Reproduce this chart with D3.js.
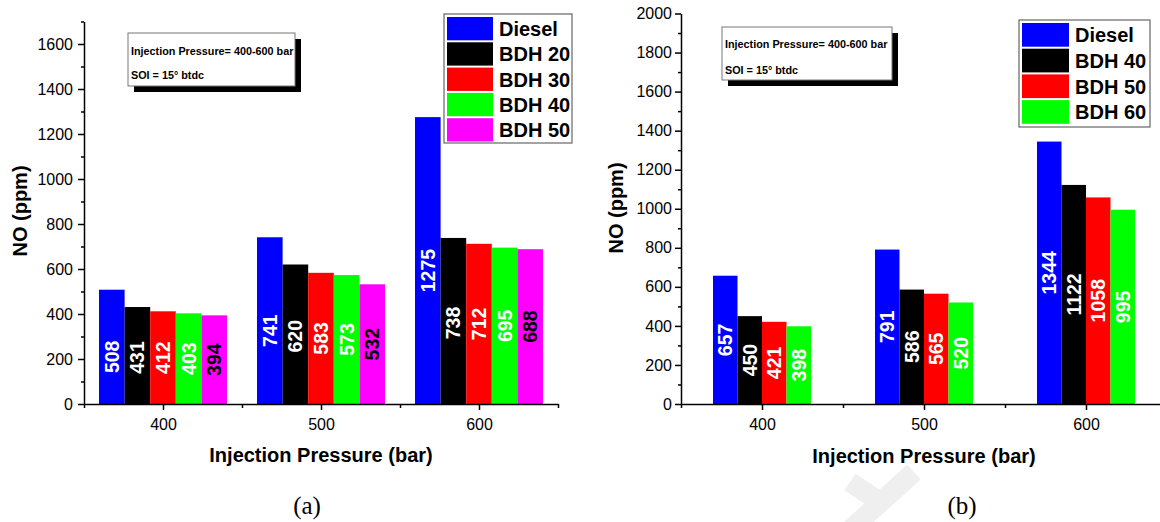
<!DOCTYPE html>
<html>
<head>
<meta charset="utf-8">
<script src="https://cdn.jsdelivr.net/npm/d3@7"></script>
<style>
  html, body { margin: 0; padding: 0; background: #fff; }
  svg { display: block; }
</style>
</head>
<body>
<svg id="chart" width="1160" height="522"></svg>
<script>
// Injection pressure groups shared by both panels
const pressures = [400, 500, 600];
const xMajorTicks = [400, 500, 600];
const xMinorTicks = [350, 450, 550, 650];

// Panel (a): NO emissions, Diesel and BDH 20..50
const seriesA = ["Diesel", "BDH 20", "BDH 30", "BDH 40", "BDH 50"];
const dieselA = [508, 741, 1275];
const bdh20A  = [431, 620, 738];
const bdh30A  = [412, 583, 712];
const bdh40A  = [403, 573, 695];
const bdh50A  = [394, 532, 688];
const yTicksA = [0, 200, 400, 600, 800, 1000, 1200, 1400, 1600];

// Panel (b): NO emissions, Diesel and BDH 40..60
const seriesB = ["Diesel", "BDH 40", "BDH 50", "BDH 60"];
const dieselB = [657, 791, 1344];
const bdh40B  = [450, 586, 1122];
const bdh50B  = [421, 565, 1058];
const bdh60B  = [398, 520, 995];
const yTicksB = [0, 200, 400, 600, 800, 1000, 1200, 1400, 1600, 1800, 2000];

const svg = d3.select("#chart");
const SANS = "'Liberation Sans', Arial, Helvetica, sans-serif";
const fmt = d3.format("d");

function drawPanel(o) {
  const g = svg.append("g");
  const x = d3.scaleLinear().domain([350, 650]).range([o.x0, o.x1]);
  const y = d3.scaleLinear().domain([0, o.yMax]).range([404, o.yTop]);
  const inner = d3.scaleBand()
    .domain(d3.range(o.series.length))
    .range([-o.groupW / 2, o.groupW / 2]);
  const bw = x(350 + inner.bandwidth()) - x(350);

  // watermark layer sits under everything else
  const under = g.append("g");

  // bars
  o.values.forEach((vals, si) => {
    g.selectAll(null).data(vals).join("rect")
      .attr("x", (d, i) => x(pressures[i] + inner(si)))
      .attr("y", d => y(d))
      .attr("width", bw)
      .attr("height", d => y(0) - y(d))
      .attr("fill", o.colors[si]);
  });

  // value labels inside bars
  o.values.forEach((vals, si) => {
    g.selectAll(null).data(vals).join("text")
      .attr("transform", (d, i) => {
        const cx = x(pressures[i] + inner(si)) + bw / 2;
        const cy = (y(d) + y(0)) / 2 + (o.labelShift[si] || 0);
        return `translate(${cx},${cy}) rotate(-90)`;
      })
      .attr("text-anchor", "middle")
      .attr("dy", "0.36em")
      .attr("font-family", SANS)
      .attr("font-weight", "bold")
      .attr("font-size", 19.5)
      .attr("fill", o.labelColors[si])
      .text(d => d);
  });

  // y axis
  const minorY = d3.range(0, o.yMax + 1, 100).filter(v => v % 200 !== 0);
  g.append("g").attr("transform", `translate(${o.x0},0)`)
    .call(d3.axisLeft(y).tickValues(o.yTicks).tickFormat(fmt)
      .tickSize(6).tickSizeOuter(0).tickPadding(o.yPad));
  g.append("g").attr("transform", `translate(${o.x0},0)`)
    .call(d3.axisLeft(y).tickValues(minorY).tickSize(3).tickFormat(""))
    .call(a => a.select(".domain").remove());

  // x axis
  g.append("g").attr("transform", "translate(0,404)")
    .call(d3.axisBottom(x).tickValues(xMajorTicks).tickFormat(fmt)
      .tickSize(6).tickSizeOuter(0).tickPadding(9));
  g.append("g").attr("transform", "translate(0,404)")
    .call(d3.axisBottom(x).tickValues(xMinorTicks).tickSize(4).tickFormat(""))
    .call(a => a.select(".domain").remove());

  g.selectAll(".domain, .tick line").attr("stroke", "#000").attr("stroke-width", 1.5);
  g.selectAll(".tick text").attr("font-family", SANS).attr("font-size", 16).attr("fill", "#000");

  // axis titles
  g.append("text")
    .attr("x", (o.x0 + x(650)) / 2 + o.xTitleShift).attr("y", o.xTitleY)
    .attr("text-anchor", "middle")
    .attr("font-family", SANS).attr("font-weight", "bold").attr("font-size", 20)
    .text("Injection Pressure (bar)");
  g.append("text")
    .attr("transform", `translate(${o.yTitleX},${o.yTitleY}) rotate(-90)`)
    .attr("text-anchor", "middle")
    .attr("font-family", SANS).attr("font-weight", "bold").attr("font-size", 20)
    .text("NO (ppm)");

  // condition note with drop shadow
  const n = o.note;
  g.append("rect").attr("x", n.x + 6).attr("y", n.y + 6).attr("width", n.w).attr("height", n.h).attr("fill", "#000");
  g.append("rect").attr("x", n.x).attr("y", n.y).attr("width", n.w).attr("height", n.h)
    .attr("fill", "#fff").attr("stroke", "#777").attr("stroke-width", 1);
  ["Injection Pressure= 400-600 bar", "SOI = 15\u00b0 btdc"].forEach((t, i) => {
    g.append("text").attr("x", n.x + 3).attr("y", n.y + n.b[i])
      .attr("font-family", SANS).attr("font-weight", "bold").attr("font-size", 10.8)
      .text(t);
  });

  // legend
  const L = o.legend;
  g.append("rect").attr("x", L.x).attr("y", L.y).attr("width", L.w).attr("height", L.h)
    .attr("fill", "#fff").attr("stroke", "#666").attr("stroke-width", 1.2);
  o.series.forEach((s, i) => {
    const ry = L.y + 3 + i * L.row;
    g.append("rect").attr("x", L.x + 3).attr("y", ry).attr("width", L.sw).attr("height", L.row - 2)
      .attr("fill", o.colors[i]);
    g.append("text").attr("x", L.x + L.sw + 9).attr("y", ry + L.row / 2 + 6.5)
      .attr("font-family", SANS).attr("font-weight", "bold").attr("font-size", 20)
      .text(s);
  });

  // panel caption
  g.append("text").attr("x", o.capX).attr("y", 514)
    .attr("text-anchor", "middle")
    .attr("font-family", "'Liberation Serif', 'Times New Roman', serif").attr("font-size", 25)
    .text(o.caption);
  return under;
}

drawPanel({
  x0: 84, x1: 558, yMax: 1700, yTop: 21.5, groupW: 81,
  series: seriesA,
  values: [dieselA, bdh20A, bdh30A, bdh40A, bdh50A],
  yTicks: yTicksA, yPad: 5,
  colors: ["#0000ff", "#000000", "#ff0000", "#00ff00", "#ff00ff"],
  labelColors: ["#fff", "#fff", "#fff", "#fff", "#000"],
  labelShift: [10, 2, 0, 0, 0],
  xTitleY: 462, xTitleShift: 0,
  yTitleX: 27, yTitleY: 211,
  note: { x: 128, y: 33, w: 167, h: 53, b: [22, 46] },
  legend: { x: 444, y: 14, w: 128, h: 129, row: 25.3, sw: 46 },
  capX: 307, caption: "(a)"
});

const underB = drawPanel({
  x0: 681, x1: 1167, yMax: 2000, yTop: 13.5, groupW: 60.5,
  series: seriesB,
  values: [dieselB, bdh40B, bdh50B, bdh60B],
  yTicks: yTicksB, yPad: 3,
  colors: ["#0000ff", "#000000", "#ff0000", "#00ff00"],
  labelColors: ["#fff", "#fff", "#fff", "#fff"],
  labelShift: [0, 0, 0, 0],
  xTitleY: 463, xTitleShift: 0,
  yTitleX: 623, yTitleY: 208,
  note: { x: 722, y: 27, w: 170, h: 53, b: [21, 47] },
  legend: { x: 1019, y: 20, w: 131, h: 107, row: 25.7, sw: 47 },
  capX: 962, caption: "(b)"
});

// faint watermark strokes in the lower part of panel (b)
underB.attr("stroke", "#efefef").attr("stroke-width", 20).attr("stroke-linecap", "butt")
  .selectAll("line")
  .data([[914, 472, 850, 530], [850, 482, 880, 502]])
  .join("line")
  .attr("x1", d => d[0]).attr("y1", d => d[1]).attr("x2", d => d[2]).attr("y2", d => d[3]);
</script>
</body>
</html>
